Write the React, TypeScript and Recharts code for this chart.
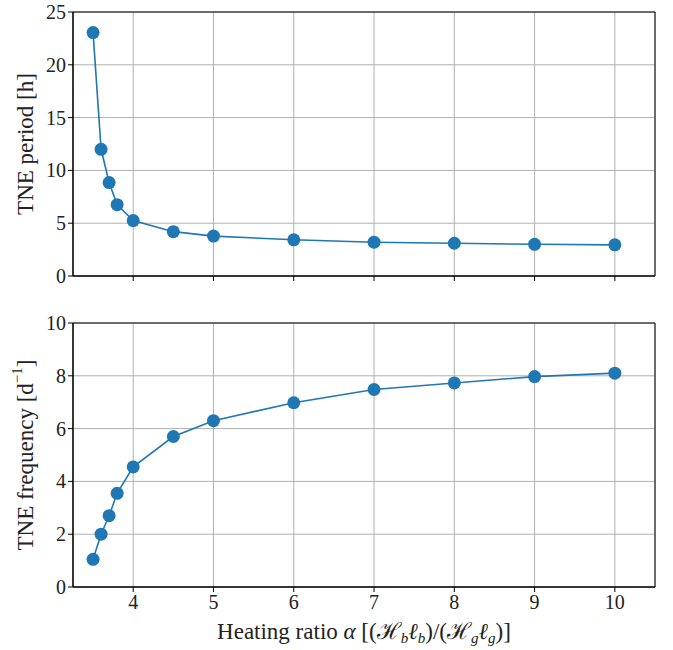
import React from "react";
import {
  CartesianGrid,
  Line,
  LineChart,
  ReferenceArea,
  XAxis,
  YAxis,
} from "recharts";

// heating ratio alpha and the TNE results
const alpha = [3.5, 3.6, 3.7, 3.8, 4, 4.5, 5, 6, 7, 8, 9, 10];
const periodHours = [23.05, 12.0, 8.85, 6.75, 5.25, 4.2, 3.78, 3.43, 3.2, 3.1, 3.0, 2.95];
const frequencyPerDay = [1.05, 2.0, 2.7, 3.55, 4.55, 5.7, 6.3, 6.98, 7.48, 7.73, 7.97, 8.1];

const xTicks = [4, 5, 6, 7, 8, 9, 10];
const periodTicks = [0, 5, 10, 15, 20, 25];
const frequencyTicks = [0, 2, 4, 6, 8, 10];

const X_DOMAIN: [number, number] = [3.25, 10.5];
const LINE_COLOR = "#1f77b4";
const GRID_COLOR = "#b0b0b0";
const FONT = "Liberation Serif, Times New Roman, DejaVu Serif, serif";
const TICK_SIZE = 20;
const LABEL_SIZE = 23;

const data = alpha.map((a, i) => ({
  alpha: a,
  period: periodHours[i],
  frequency: frequencyPerDay[i],
}));

function YTick({ x, y, payload }: any) {
  return (
    <text
      x={x}
      y={y}
      textAnchor="end"
      dominantBaseline="central"
      fill="#222"
      fontSize={TICK_SIZE}
      style={{ fontFamily: FONT }}
    >
      {payload.value}
    </text>
  );
}

function XTick({ x, y, payload }: any) {
  return (
    <text
      x={x}
      y={y}
      dy={15}
      textAnchor="middle"
      fill="#222"
      fontSize={TICK_SIZE}
      style={{ fontFamily: FONT }}
    >
      {payload.value}
    </text>
  );
}

function YLabel({ viewBox, children }: any) {
  const x = (viewBox?.x ?? 0) + 25;
  const y = (viewBox?.y ?? 0) + (viewBox?.height ?? 0) / 2;
  return (
    <text
      x={x}
      y={y}
      transform={`rotate(-90, ${x}, ${y})`}
      textAnchor="middle"
      dominantBaseline="central"
      fill="#222"
      fontSize={LABEL_SIZE}
      style={{ fontFamily: FONT }}
    >
      {children}
    </text>
  );
}

function XLabel({ viewBox }: any) {
  const x = (viewBox?.x ?? 73) + (viewBox?.width ?? 582) / 2;
  const y = (viewBox?.y ?? 287) + 52;
  const sub = { fontSize: 15, fontStyle: "italic" as const };
  return (
    <text x={x} y={y} textAnchor="middle" fill="#222" fontSize={LABEL_SIZE} style={{ fontFamily: FONT }}>
      Heating ratio <tspan fontStyle="italic">α</tspan> [(ℋ
      <tspan dy={4} {...sub}>b</tspan>
      <tspan dy={-4} fontStyle="italic">ℓ</tspan>
      <tspan dy={4} {...sub}>b</tspan>
      <tspan dy={-4}>)/(ℋ</tspan>
      <tspan dy={4} {...sub}>g</tspan>
      <tspan dy={-4} fontStyle="italic">ℓ</tspan>
      <tspan dy={4} {...sub}>g</tspan>
      <tspan dy={-4}>)]</tspan>
    </text>
  );
}

export default function App() {
  return (
    <div style={{ position: "absolute", left: 0, top: 0, width: 673, height: 650, background: "#fff", fontFamily: FONT }}>
      <LineChart
        width={673}
        height={300}
        data={data}
        margin={{ top: 12, right: 18, bottom: 0, left: 0 }}
      >
        <CartesianGrid stroke={GRID_COLOR} strokeWidth={1} />
        <XAxis
          dataKey="alpha"
          type="number"
          domain={X_DOMAIN}
          ticks={xTicks}
          allowDataOverflow
          height={24}
          tickFormatter={() => ""}
          stroke="#000"
          tickSize={5}
        />
        <YAxis
          type="number"
          domain={[0, 25]}
          ticks={periodTicks}
          width={73}
          tick={<YTick />}
          stroke="#000"
          tickSize={5}
          label={<YLabel>TNE period [h]</YLabel>}
        />
        <ReferenceArea x1={X_DOMAIN[0]} x2={X_DOMAIN[1]} y1={0} y2={25} fill="none" stroke="#000" strokeWidth={1} />
        <Line
          dataKey="period"
          stroke={LINE_COLOR}
          strokeWidth={1.6}
          dot={{ r: 6.5, fill: LINE_COLOR, stroke: "none" }}
          isAnimationActive={false}
        />
      </LineChart>
      <LineChart
        width={673}
        height={350}
        data={data}
        margin={{ top: 23, right: 18, bottom: 0, left: 0 }}
      >
        <CartesianGrid stroke={GRID_COLOR} strokeWidth={1} />
        <XAxis
          dataKey="alpha"
          type="number"
          domain={X_DOMAIN}
          ticks={xTicks}
          allowDataOverflow
          height={63}
          tick={<XTick />}
          stroke="#000"
          tickSize={5}
          label={<XLabel />}
        />
        <YAxis
          type="number"
          domain={[0, 10]}
          ticks={frequencyTicks}
          width={73}
          tick={<YTick />}
          stroke="#000"
          tickSize={5}
          label={
            <YLabel>
              TNE frequency [d<tspan dy={-8} fontSize={15}>−1</tspan>
              <tspan dy={8}>]</tspan>
            </YLabel>
          }
        />
        <ReferenceArea x1={X_DOMAIN[0]} x2={X_DOMAIN[1]} y1={0} y2={10} fill="none" stroke="#000" strokeWidth={1} />
        <Line
          dataKey="frequency"
          stroke={LINE_COLOR}
          strokeWidth={1.6}
          dot={{ r: 6.5, fill: LINE_COLOR, stroke: "none" }}
          isAnimationActive={false}
        />
      </LineChart>
    </div>
  );
}
